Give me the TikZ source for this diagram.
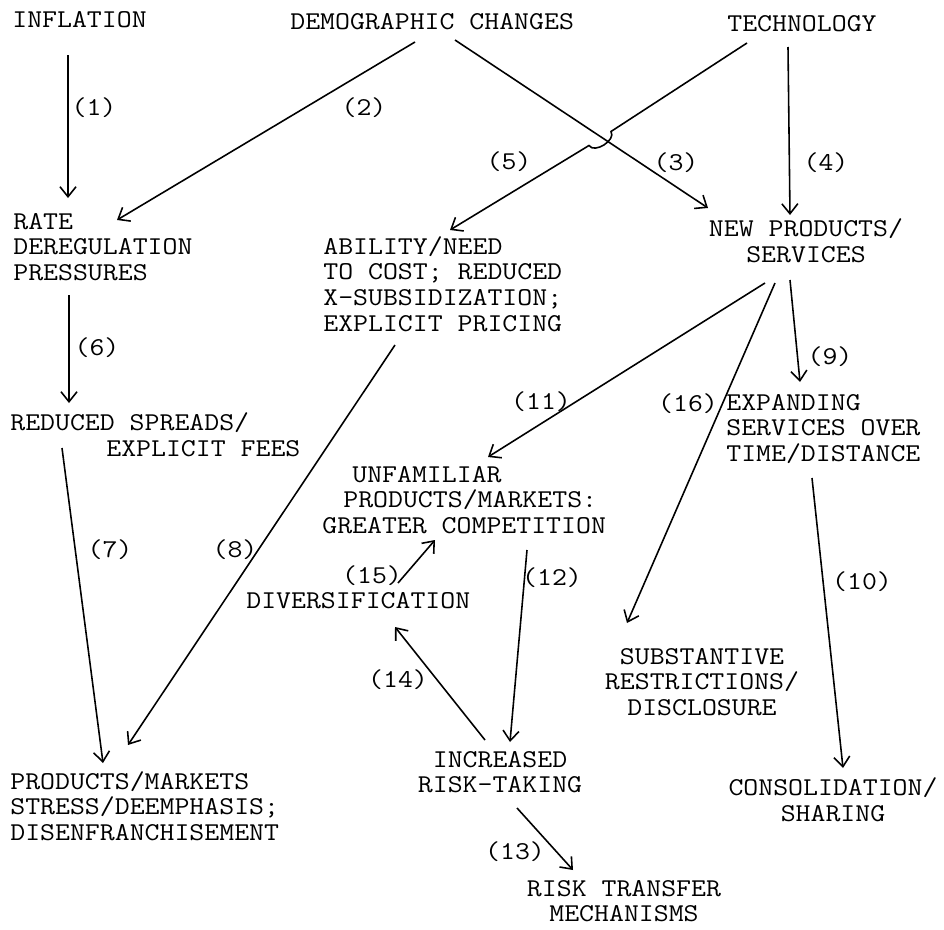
\documentclass[tikz,border=0pt]{standalone}
\usepackage{fontspec}
\setmonofont[FakeStretch=1.13]{Latin Modern Mono}
\usetikzlibrary{arrows.meta}
\tikzset{
  txt/.style={inner sep=0pt, font=\ttfamily\fontsize{14.6}{14.6}\selectfont},
  lbl/.style={inner sep=0pt, font=\ttfamily\fontsize{14.6}{14.6}\selectfont},
  fl/.style={line width=0.9pt, -{Straight Barb[length=2mm,width=3.2mm]}}
}
\begin{document}
\begin{tikzpicture}[x=0.02cm, y=-0.02cm]
    \useasboundingbox (0,0) rectangle (944,930);
    % causes
    \node[txt, anchor=west] (infl) at (12,20) {INFLATION};
    \node[txt, anchor=west] (demo) at (290,22) {DEMOGRAPHIC CHANGES};
    \node[txt, anchor=west] (tech) at (727,24) {TECHNOLOGY};
    % effects
    \node[txt, anchor=west, align=left] (rate) at (13,247) {RATE\\DEREGULATION\\PRESSURES};
    \node[txt, anchor=west, align=left] (abil) at (323,284) {ABILITY/NEED\\TO COST; REDUCED\\X-SUBSIDIZATION;\\EXPLICIT PRICING};
    \node[txt, align=center] (newps) at (806,241) {NEW PRODUCTS/\\SERVICES};
    \node[txt, anchor=west, align=left] (reduc) at (10,435) {REDUCED SPREADS/\\\hspace*{1.92cm}EXPLICIT FEES};
    \node[txt, anchor=west, align=left] (expand) at (726,429) {EXPANDING\\SERVICES OVER\\TIME/DISTANCE};
    \node[txt, anchor=west, align=left] (unfam) at (322,500) {\hspace*{0.6cm}UNFAMILIAR\\\hspace*{0.42cm}PRODUCTS/MARKETS:\\GREATER COMPETITION};
    \node[txt, anchor=west] (divers) at (246,601) {DIVERSIFICATION};
    \node[txt, align=center] (subst) at (702,682) {SUBSTANTIVE\\RESTRICTIONS/\\DISCLOSURE};
    \node[txt, align=center] (incr) at (500,772) {INCREASED\\RISK-TAKING};
    \node[txt, anchor=west, align=left] (prodmk) at (10,806) {PRODUCTS/MARKETS\\STRESS/DEEMPHASIS;\\DISENFRANCHISEMENT};
    \node[txt, align=center] (consol) at (833,800) {CONSOLIDATION/\\SHARING};
    \node[txt, align=center] (risktr) at (624,901) {RISK TRANSFER\\MECHANISMS};
    % numbers
    \node[lbl] (l1) at (94,108) {(1)};
    \node[lbl] (l2) at (364,108) {(2)};
    \node[lbl] (l3) at (676,163) {(3)};
    \node[lbl] (l4) at (826,163) {(4)};
    \node[lbl] (l5) at (509,162) {(5)};
    \node[lbl] (l6) at (97,348) {(6)};
    \node[lbl] (l7) at (110,550) {(7)};
    \node[lbl] (l8) at (235,550) {(8)};
    \node[lbl] (l9) at (830,357) {(9)};
    \node[lbl] (l10) at (862,582) {(10)};
    \node[lbl] (l11) at (541,402) {(11)};
    \node[lbl] (l12) at (552,578) {(12)};
    \node[lbl] (l13) at (515,852) {(13)};
    \node[lbl] (l14) at (398,680) {(14)};
    \node[lbl] (l15) at (372,576) {(15)};
    \node[lbl] (l16) at (688,404) {(16)};
    % arrows
    \draw[fl] ([shift={(56,35)}]infl.west) -- ([shift={(55,-49)}]rate.west);
    \draw[fl] ([shift={(125,20)}]demo.west) -- ([shift={(104,-27)}]rate.west);
    \draw[fl] ([shift={(165,18)}]demo.west) -- ([shift={(-98,-33)}]newps.center);
    \draw[fl] ([shift={(61,23)}]tech.west) -- ([shift={(-16,-26)}]newps.center);
    \draw[fl] ([shift={(20,19)}]tech.west) -- (611,131.5) .. controls (616.4,140) and (594.4,154) .. (589,145.5) -- ([shift={(127,-54)}]abil.west);%saut au croisement
    \draw[fl] ([shift={(56,48)}]rate.west) -- ([shift={(59,-32)}]reduc.west);
    \draw[fl] ([shift={(52,13)}]reduc.west) -- ([shift={(93,-43)}]prodmk.west);
    \draw[fl] ([shift={(72,61)}]abil.west) -- ([shift={(118,-61)}]prodmk.west);
    \draw[fl] ([shift={(-16,39)}]newps.center) -- ([shift={(74,-47)}]expand.west);
    \draw[fl] ([shift={(86,49)}]expand.west) -- ([shift={(10,-32)}]consol.center);
    \draw[fl] ([shift={(-41,42)}]newps.center) -- ([shift={(166,-43)}]unfam.west);
    \draw[fl] ([shift={(205,50)}]unfam.west) -- ([shift={(10,-30)}]incr.center);
    \draw[fl] ([shift={(17,36)}]incr.center) -- ([shift={(-51,-31)}]risktr.center);
    \draw[fl] ([shift={(-15,-32)}]incr.center) -- ([shift={(149,26)}]divers.west);
    \draw[fl] ([shift={(152,-18)}]divers.west) -- ([shift={(113,40)}]unfam.west);
    \draw[fl] ([shift={(-31,42)}]newps.center) -- ([shift={(-75,-59)}]subst.center);
\end{tikzpicture}
\end{document}
